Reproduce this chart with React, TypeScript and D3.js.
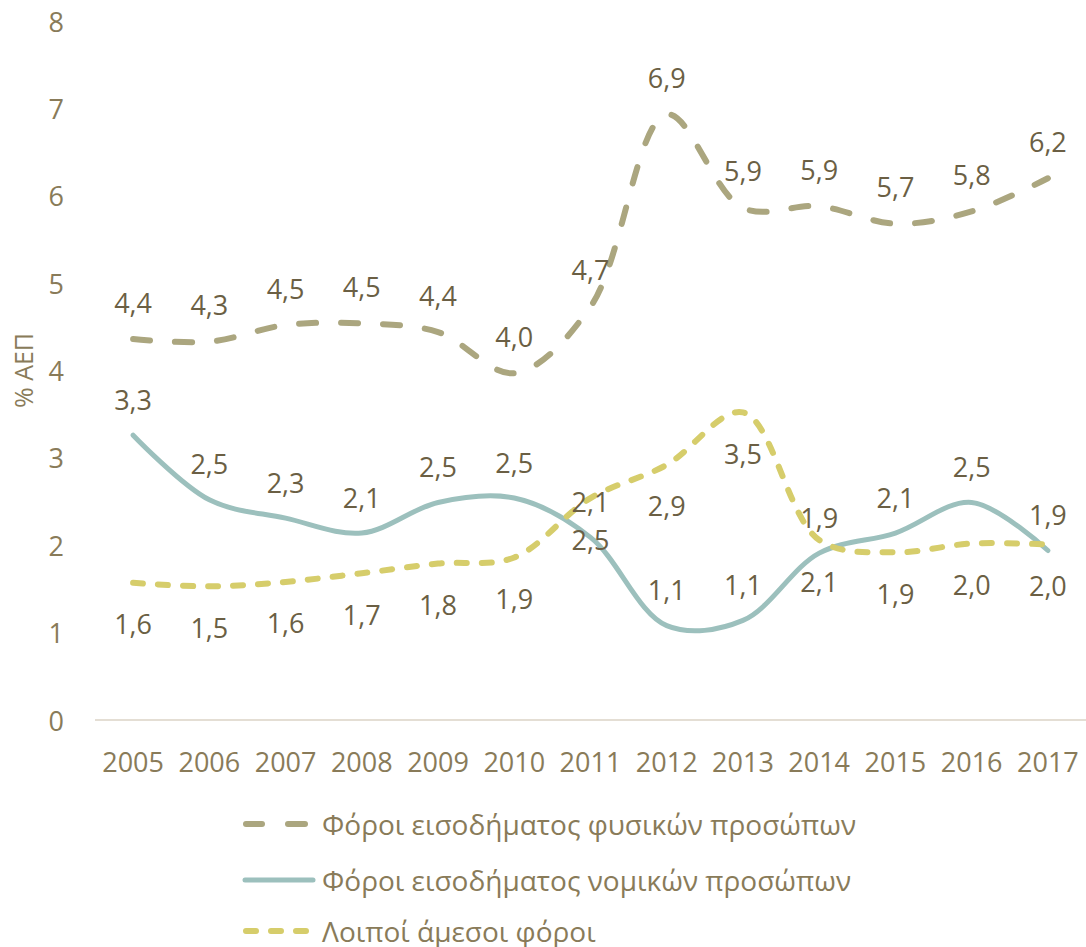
import React from "react";
import * as d3 from "d3";

const years = ["2005","2006","2007","2008","2009","2010","2011","2012","2013","2014","2015","2016","2017"];
const personalIncomeTax = [4.36, 4.33, 4.52, 4.54, 4.44, 3.97, 4.73, 6.93, 5.86, 5.88, 5.68, 5.82, 6.2];
const corporateIncomeTax = [3.26, 2.52, 2.31, 2.14, 2.49, 2.54, 2.09, 1.08, 1.14, 1.91, 2.14, 2.49, 1.94];
const otherDirectTaxes = [1.57, 1.53, 1.58, 1.68, 1.79, 1.86, 2.54, 2.92, 3.52, 2.06, 1.92, 2.02, 2.01];
const yTicks = [0, 1, 2, 3, 4, 5, 6, 7, 8];
const seriesNames = [
  "Φόροι εισοδήματος φυσικών προσώπων",
  "Φόροι εισοδήματος νομικών προσώπων",
  "Λοιποί άμεσοι φόροι",
];

const W = 1086, H = 947;
const FONT = "'Open Sans', 'DejaVu Sans', sans-serif";
const TICK_COLOR = "#897B59";
const LABEL_COLOR = "#6B5F44";

const series = [
  { name: seriesNames[0], values: personalIncomeTax, color: "#ABA67F", width: 6, dash: "17 25", cap: "round", labelDy: -37 },
  { name: seriesNames[1], values: corporateIncomeTax, color: "#9CC0BD", width: 5, dash: null, cap: "round", labelDy: -36 },
  { name: seriesNames[2], values: otherDirectTaxes, color: "#D6CD6B", width: 6, dash: "10 15", cap: "round", labelDy: 41 },
];

const fmt = (v: number) => v.toFixed(1).replace(".", ",");

export default function App() {
  const x = d3.scalePoint<string>().domain(years).range([95, 1086]).padding(0.5);
  const y = d3.scaleLinear().domain([0, 8]).range([720, 21]);
  const line = d3
    .line<number>()
    .x((_, i) => x(years[i]) as number)
    .y((d) => y(d))
    .curve(d3.curveCatmullRom.alpha(0.5));

  const legendY = [824, 880, 931];

  return (
    <svg width={W} height={H} style={{ display: "block", position: "absolute", left: 0, top: 0 }} fontFamily={FONT}>
      <rect width={W} height={H} fill="#ffffff" />
      {yTicks.map((t) => (
        <text key={t} x={64} y={y(t)} textAnchor="end" dominantBaseline="central" fontSize={27} fill={TICK_COLOR}>
          {t}
        </text>
      ))}
      <text
        transform={`translate(23, ${y(4)}) rotate(-90)`}
        textAnchor="middle"
        dominantBaseline="central"
        fontSize={25}
        fill={TICK_COLOR}
      >
        % ΑΕΠ
      </text>
      <line x1={95} x2={1086} y1={y(0)} y2={y(0)} stroke="#E4DED4" strokeWidth={2} />
      {years.map((yr) => (
        <text key={yr} x={x(yr)} y={761} textAnchor="middle" dominantBaseline="central" fontSize={27} fill={TICK_COLOR}>
          {yr}
        </text>
      ))}
      {series.map((s) => (
        <path
          key={s.name}
          d={line(s.values) || ""}
          fill="none"
          stroke={s.color}
          strokeWidth={s.width}
          strokeDasharray={s.dash || undefined}
          strokeLinecap={s.cap as any}
          strokeLinejoin="round"
        />
      ))}
      {series.map((s) =>
        s.values.map((v, i) => (
          <text
            key={s.name + i}
            x={x(years[i])}
            y={y(v) + s.labelDy}
            textAnchor="middle"
            dominantBaseline="central"
            fontSize={27}
            fill={LABEL_COLOR}
          >
            {fmt(v)}
          </text>
        ))
      )}
      {series.map((s, i) => (
        <g key={"lg" + i}>
          {i === 0 && (
            <>
              <line x1={246} x2={262} y1={legendY[i]} y2={legendY[i]} stroke={s.color} strokeWidth={s.width} strokeLinecap="round" />
              <line x1={288} x2={305} y1={legendY[i]} y2={legendY[i]} stroke={s.color} strokeWidth={s.width} strokeLinecap="round" />
            </>
          )}
          {i === 1 && (
            <line x1={245} x2={313} y1={legendY[i]} y2={legendY[i]} stroke={s.color} strokeWidth={s.width} strokeLinecap="round" />
          )}
          {i === 2 && (
            <line x1={246} x2={312} y1={legendY[i]} y2={legendY[i]} stroke={s.color} strokeWidth={s.width} strokeLinecap="round" strokeDasharray="10 15" />
          )}
          <text x={322} y={legendY[i]} dominantBaseline="central" fontSize={28} fill={TICK_COLOR}>
            {s.name}
          </text>
        </g>
      ))}
    </svg>
  );
}
